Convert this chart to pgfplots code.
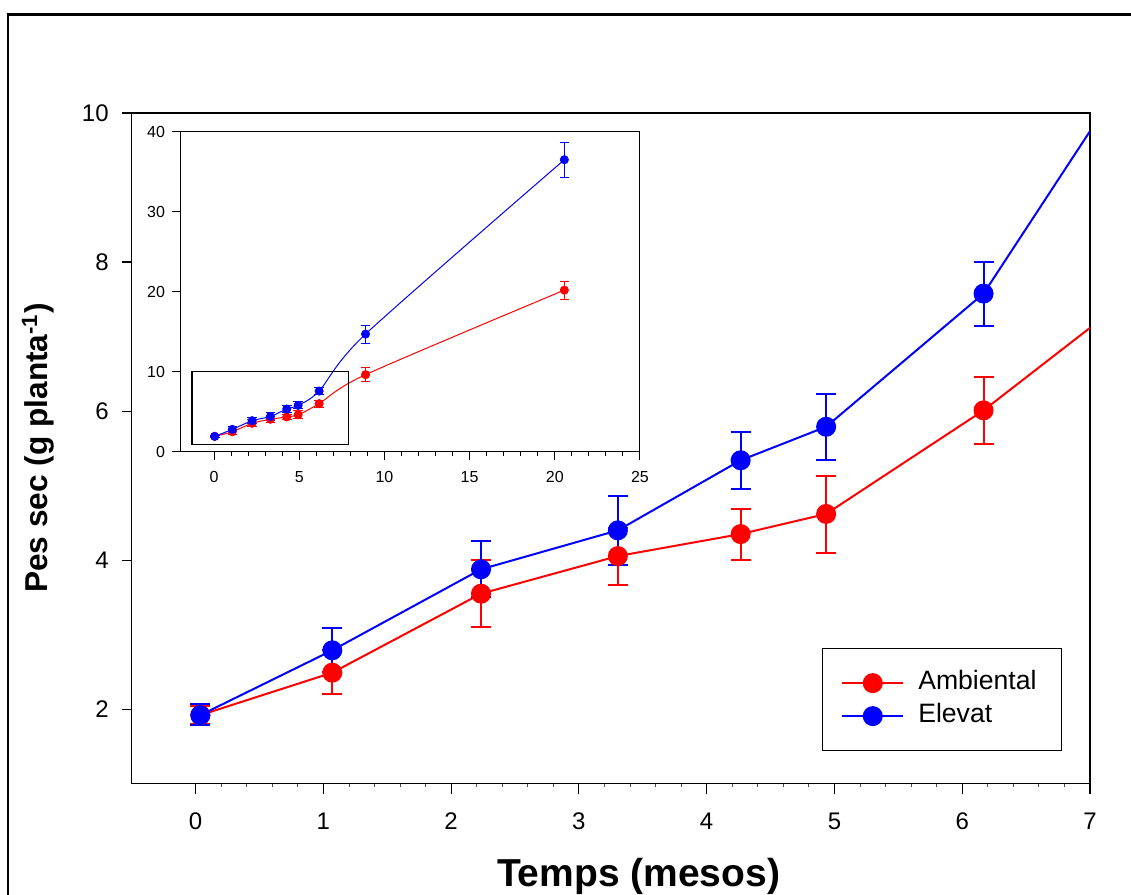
\documentclass[border=0pt]{standalone}
\usepackage{fontspec}
\setmainfont{Liberation Sans}
\usepackage{pgfplots}
\pgfplotsset{compat=1.18}
\usepackage{pgfplotstable}

\pgfplotstableread{
x y ep em
0.037 1.92 0.12 0.12
1.07 2.49 0.30 0.29
2.234 3.55 0.45 0.45
3.305 4.055 0.375 0.385
4.266 4.35 0.34 0.35
4.935 4.62 0.51 0.52
6.167 6.01 0.445 0.454
8.89 9.63 0.87 0.88
20.56 20.2 1.1 1.2
}\amb

\pgfplotstableread{
x y ep em
0.037 1.92 0.15 0.13
1.07 2.79 0.305 0.29
2.234 3.877 0.38 0.377
3.305 4.40 0.46 0.47
4.266 5.34 0.38 0.39
4.935 5.79 0.44 0.44
6.167 7.577 0.42 0.437
8.89 14.7 1.05 1.2
20.56 36.5 2.1 2.2
}\ele

\begin{document}
\begin{tikzpicture}
\useasboundingbox (0,0) rectangle (565.5pt,-447.5pt);
\draw[line width=1.2pt] (4pt,-470pt) -- (4pt,-7.15pt) -- (590pt,-7.15pt);
\begin{axis}[
  at={(65.85pt,-391.85pt)}, anchor=south west,
  scale only axis, width=479.15pt, height=335.35pt,
  xmin=-0.5, xmax=7, ymin=1, ymax=10,
  xtick={0,...,7}, ytick={2,4,6,8,10},
  minor x tick num=4,
  tick align=outside, tick pos=left,
  major tick length=5pt, minor tick length=1.5pt,
  axis line style={line width=0.6pt},
  every tick/.style={black, line width=0.6pt},
  every minor tick/.style={black!70, line width=0.4pt},
  ticklabel style={font=\fontsize{12}{14}\selectfont},
  /pgf/number format/assume math mode=true,
  xticklabel shift=6pt,
  yticklabel shift=3pt,
  xlabel={\textbf{Temps (mesos)}},
  ylabel={\textbf{Pes sec (g planta\textsuperscript{-1})}},
  x label style={at={(axis description cs:0.529,-0.1385)}, anchor=center, font=\fontsize{19.5}{22}\selectfont},
  y label style={at={(axis description cs:-0.0978,0.5005)}, anchor=center, font=\fontsize{15.8}{19}\selectfont},
  legend style={at={(axis description cs:0.720,0.2023)}, anchor=north west,
    draw=black, line width=0.6pt, font=\fontsize{13.3}{15}\selectfont,
    inner xsep=9.5pt, inner ysep=9.5pt,
    nodes={inner sep=2pt, text height=9pt, text depth=2.5pt},
    row sep=1pt},
  legend cell align=left,
  /tikz/every even column/.append style={column sep=14pt},
  legend image code/.code={\draw[mark repeat=2,mark phase=2,#1] plot coordinates {(0pt,0pt)(15.25pt,0pt)(30.5pt,0pt)};},
]
\addplot[red, line width=1pt, mark=*, mark size=4.5pt, mark options={solid, fill=red},
  error bars/.cd, y dir=both, y explicit,
  error bar style={line width=1pt},
  error mark options={rotate=90, mark size=5pt, line width=1pt}]
  table[x=x, y=y, y error plus=ep, y error minus=em] {\amb};
\addlegendentry{\hspace*{5pt}Ambiental\hspace*{1pt}}
\addplot[blue, line width=1pt, mark=*, mark size=4.5pt, mark options={solid, fill=blue},
  error bars/.cd, y dir=both, y explicit,
  error bar style={line width=1pt},
  error mark options={rotate=90, mark size=5pt, line width=1pt}]
  table[x=x, y=y, y error plus=ep, y error minus=em] {\ele};
\addlegendentry{\hspace*{5pt}Elevat}
\end{axis}

\begin{axis}[
  at={(90pt,-225.85pt)}, anchor=south west,
  scale only axis, width=230pt, height=160pt,
  xmin=-2, xmax=25, ymin=0, ymax=40,
  xtick={0,5,...,25}, ytick={0,10,...,40},
  minor x tick num=4,
  tick align=outside, tick pos=left,
  major tick length=4pt, minor tick length=2pt,
  axis line style={line width=0.5pt},
  every tick/.style={black, line width=0.5pt},
  axis background/.style={fill=white},
  ticklabel style={font=\fontsize{8}{9}\selectfont},
  /pgf/number format/assume math mode=true,
  xticklabel shift=2.5pt,
  yticklabel shift=0pt,
]
\addplot[red, line width=0.5pt, smooth, tension=0.45, mark=*, mark size=2pt, mark options={solid, fill=red},
  error bars/.cd, y dir=both, y explicit,
  error bar style={line width=0.5pt},
  error mark options={rotate=90, mark size=2.4pt, line width=0.5pt}]
  table[x=x, y=y, y error plus=ep, y error minus=em] {\amb};
\addplot[blue, line width=0.5pt, smooth, tension=0.45, mark=*, mark size=2pt, mark options={solid, fill=blue},
  error bars/.cd, y dir=both, y explicit,
  error bar style={line width=0.5pt},
  error mark options={rotate=90, mark size=2.4pt, line width=0.5pt}]
  table[x=x, y=y, y error plus=ep, y error minus=em] {\ele};
\draw[line width=0.6pt] (axis cs:-1.3,0.87) rectangle (axis cs:7.9,10);
\end{axis}
\end{tikzpicture}
\end{document}
